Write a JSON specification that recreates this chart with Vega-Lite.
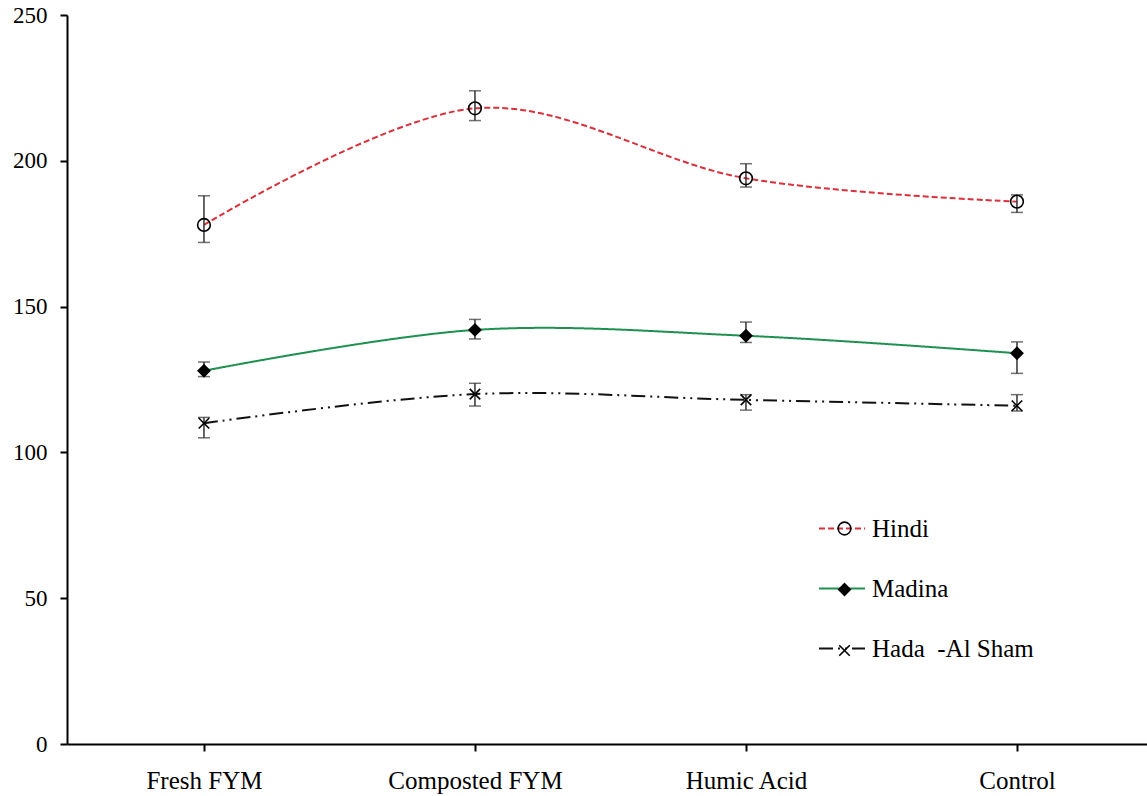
{
  "$schema": "https://vega.github.io/schema/vega-lite/v6.json",
  "width": 1080,
  "height": 729,
  "autosize": "none",
  "padding": {"left": 67, "top": 15, "right": 0, "bottom": 52},
  "background": "white",
  "config": {"view": {"stroke": null}, "font": "Liberation Serif"},
  "data": {
    "values": [
      {"category": "Fresh FYM", "variety": "Hindi", "mean": 178, "lo": 172, "hi": 188},
      {"category": "Composted FYM", "variety": "Hindi", "mean": 218, "lo": 213.8, "hi": 224},
      {"category": "Humic Acid", "variety": "Hindi", "mean": 194, "lo": 191, "hi": 199},
      {"category": "Control", "variety": "Hindi", "mean": 186, "lo": 182.3, "hi": 188.3},
      {"category": "Fresh FYM", "variety": "Madina", "mean": 128, "lo": 126, "hi": 131},
      {"category": "Composted FYM", "variety": "Madina", "mean": 142, "lo": 138.9, "hi": 145.6},
      {"category": "Humic Acid", "variety": "Madina", "mean": 140, "lo": 137.7, "hi": 144.7},
      {"category": "Control", "variety": "Madina", "mean": 134, "lo": 127.1, "hi": 137.9},
      {"category": "Fresh FYM", "variety": "Hada\u00a0 -Al Sham", "mean": 110, "lo": 105, "hi": 112},
      {"category": "Composted FYM", "variety": "Hada\u00a0 -Al Sham", "mean": 120, "lo": 115.9, "hi": 123.7},
      {"category": "Humic Acid", "variety": "Hada\u00a0 -Al Sham", "mean": 118, "lo": 114.5, "hi": 119.8},
      {"category": "Control", "variety": "Hada\u00a0 -Al Sham", "mean": 116, "lo": 114.2, "hi": 119.8}
    ]
  },
  "encoding": {
    "x": {
      "field": "category",
      "type": "nominal",
      "sort": ["Fresh FYM", "Composted FYM", "Humic Acid", "Control"],
      "scale": {"type": "point", "padding": 0.4926, "align": 0.513},
      "axis": {
        "title": null,
        "grid": false,
        "labelAngle": 0,
        "domainColor": "black",
        "domainWidth": 2,
        "tickColor": "black",
        "tickWidth": 2,
        "tickSize": 7,
        "labelFont": "Liberation Serif",
        "labelFontSize": 25,
        "labelColor": "black",
        "labelPadding": 17
      }
    }
  },
  "layer": [
    {
      "mark": {"type": "line", "interpolate": "cardinal", "strokeWidth": 2},
      "encoding": {
        "y": {
          "field": "mean",
          "type": "quantitative",
          "scale": {"domain": [0, 250], "nice": false},
          "axis": {
            "title": null,
            "grid": false,
            "values": [0, 50, 100, 150, 200, 250],
            "domainColor": "black",
            "domainWidth": 2,
            "tickColor": "black",
            "tickWidth": 2,
            "tickSize": 7,
            "labelFont": "Liberation Serif",
            "labelFontSize": 23,
            "labelColor": "black",
            "labelPadding": 13
          }
        },
        "color": {
          "field": "variety",
          "type": "nominal",
          "scale": {"domain": ["Hindi", "Madina", "Hada\u00a0 -Al Sham"], "range": ["#d9303c", "#1e9150", "#111111"]},
          "legend": {
            "orient": "none", "legendX": 751, "legendY": 489.5, "title": null,
            "symbolType": "stroke", "symbolSize": 2116, "symbolStrokeWidth": 2,
            "labelFont": "Liberation Serif", "labelFontSize": 25, "labelColor": "black",
            "rowPadding": 23, "labelOffset": 6, "labelLimit": 400
          }
        },
        "strokeDash": {
          "field": "variety",
          "type": "nominal",
          "scale": {"domain": ["Hindi", "Madina", "Hada\u00a0 -Al Sham"], "range": [[6, 3], [1, 0], [14, 5, 2, 5, 2, 5]]},
          "legend": {
            "orient": "none", "legendX": 751, "legendY": 489.5, "title": null,
            "symbolType": "stroke", "symbolSize": 2116, "symbolStrokeWidth": 2,
            "labelFont": "Liberation Serif", "labelFontSize": 25, "labelColor": "black",
            "rowPadding": 23, "labelOffset": 6, "labelLimit": 400
          }
        }
      }
    },
    {
      "mark": {"type": "rule", "color": "#333333", "strokeWidth": 1.5},
      "encoding": {
        "y": {"field": "lo", "type": "quantitative", "scale": {"domain": [0, 250], "nice": false}},
        "y2": {"field": "hi"}
      }
    },
    {
      "mark": {"type": "tick", "color": "#333333", "thickness": 1.5, "size": 12},
      "encoding": {"y": {"field": "lo", "type": "quantitative", "scale": {"domain": [0, 250], "nice": false}}}
    },
    {
      "mark": {"type": "tick", "color": "#333333", "thickness": 1.5, "size": 12},
      "encoding": {"y": {"field": "hi", "type": "quantitative", "scale": {"domain": [0, 250], "nice": false}}}
    },
    {
      "mark": {"type": "point", "strokeWidth": 1.6, "opacity": 1},
      "encoding": {
        "y": {"field": "mean", "type": "quantitative", "scale": {"domain": [0, 250], "nice": false}},
        "shape": {
          "field": "variety",
          "type": "nominal",
          "sort": {"field": "mean", "op": "max", "order": "descending"},
          "scale": {"range": ["circle", "diamond", "M-1,-1L1,1M1,-1L-1,1"]},
          "legend": {
            "orient": "none", "legendX": 765, "legendY": 501, "title": null,
            "labelExpr": "''", "labelFontSize": 25, "labelFont": "Liberation Serif",
            "rowPadding": 35, "symbolStrokeWidth": 1.6
          }
        },
        "fill": {
          "field": "variety",
          "type": "nominal",
          "sort": {"field": "mean", "op": "max", "order": "descending"},
          "scale": {"range": ["transparent", "black", "black"]},
          "legend": {
            "orient": "none", "legendX": 765, "legendY": 501, "title": null,
            "labelExpr": "''", "labelFontSize": 25, "labelFont": "Liberation Serif",
            "rowPadding": 35, "symbolStrokeWidth": 1.6
          }
        },
        "stroke": {
          "field": "variety",
          "type": "nominal",
          "sort": {"field": "mean", "op": "max", "order": "descending"},
          "scale": {"range": ["black", "black", "black"]},
          "legend": {
            "orient": "none", "legendX": 765, "legendY": 501, "title": null,
            "labelExpr": "''", "labelFontSize": 25, "labelFont": "Liberation Serif",
            "rowPadding": 35, "symbolStrokeWidth": 1.6
          }
        },
        "size": {
          "field": "variety",
          "type": "nominal",
          "sort": {"field": "mean", "op": "max", "order": "descending"},
          "scale": {"range": [160, 110, 100]},
          "legend": {
            "orient": "none", "legendX": 765, "legendY": 501, "title": null,
            "labelExpr": "''", "labelFontSize": 25, "labelFont": "Liberation Serif",
            "rowPadding": 35, "symbolStrokeWidth": 1.6
          }
        }
      }
    }
  ]
}
